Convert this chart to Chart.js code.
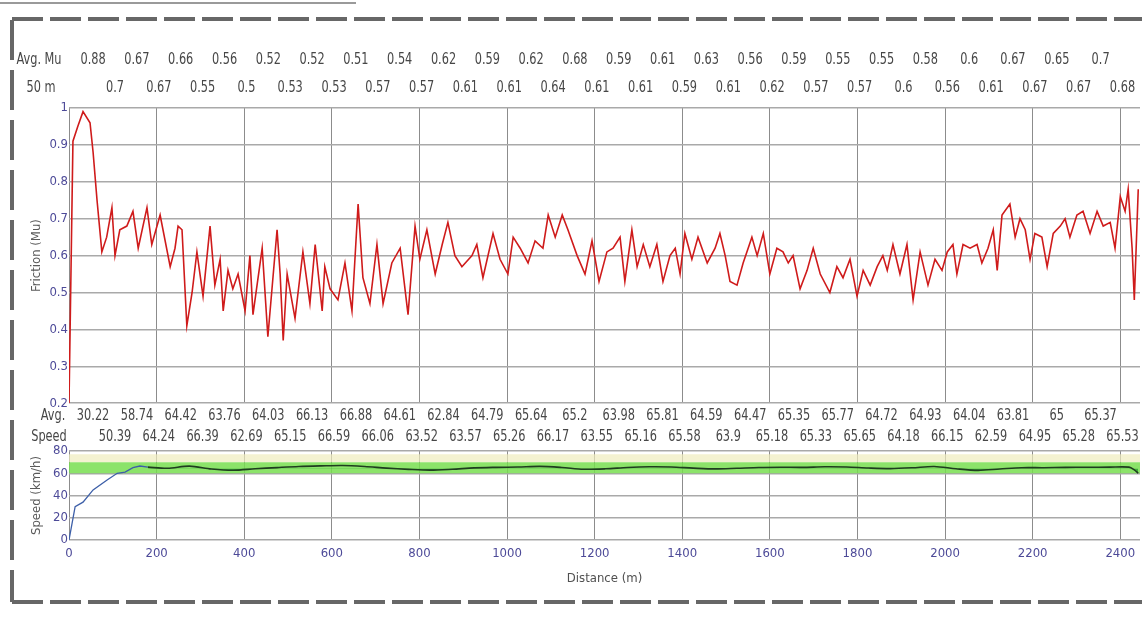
<!DOCTYPE html>
<html>
<head>
<meta charset="utf-8">
<script src="https://cdn.jsdelivr.net/npm/chart.js@4.4.1/dist/chart.umd.min.js"></script>
<style>
  html, body { margin: 0; padding: 0; background: #fff; }
  body { width: 1142px; height: 628px; position: relative; overflow: hidden; }
  canvas { position: absolute; left: 0; }
  #topLine { position: absolute; left: 0; top: 2px; width: 356px; height: 2px; background: #9a9a9a; }
  .dashH { position: absolute; height: 4px; left: 12px; right: 0;
    background: repeating-linear-gradient(to right, #676767 0 31px, transparent 31px 38px); }
  .dashV { position: absolute; width: 4px; left: 10px; top: 20px; height: 582px;
    background: repeating-linear-gradient(to bottom, #676767 0 40px, transparent 40px 50px); }
</style>
</head>
<body>
<div id="topLine"></div>
<div class="dashH" style="top:17px"></div>
<div class="dashH" style="top:600px"></div>
<div class="dashV"></div>
<canvas id="frictionChart" width="1142" height="412" style="top:0"></canvas>
<canvas id="speedChart" width="1142" height="200" style="top:400px"></canvas>
<script>
// distance axis (m)
const distTicks = [0, 200, 400, 600, 800, 1000, 1200, 1400, 1600, 1800, 2000, 2200, 2400];
const distMax = 2445;

// friction trace
const frictionDist = [0, 9, 20, 32, 48, 55, 64, 75, 86, 98, 105, 116, 132, 146, 158, 178, 189, 208, 231, 242,
  249, 258, 269, 281, 292, 306, 322, 333, 345, 352, 363, 374, 386, 402, 413, 420, 441, 454, 475, 482,
  489, 498, 516, 534, 550, 562, 578, 584, 596, 614, 630, 646, 660, 671, 687, 703, 717, 737, 756, 774,
  790, 801, 817, 836, 852, 865, 881, 897, 920, 931, 945, 968, 984, 1002, 1014, 1030, 1048, 1064, 1082, 1094,
  1110, 1126, 1139, 1160, 1178, 1194, 1210, 1228, 1242, 1258, 1269, 1285, 1297, 1311, 1326, 1342, 1356, 1372, 1384, 1395,
  1406, 1422, 1436, 1457, 1475, 1486, 1498, 1509, 1525, 1539, 1559, 1571, 1585, 1600, 1616, 1630, 1642, 1653, 1669, 1685,
  1699, 1715, 1737, 1753, 1767, 1783, 1799, 1813, 1829, 1845, 1858, 1868, 1881, 1897, 1913, 1927, 1943, 1961, 1977, 1993,
  2005, 2018, 2027, 2041, 2057, 2073, 2084, 2098, 2110, 2119, 2130, 2148, 2160, 2171, 2183, 2194, 2205, 2221, 2233, 2247,
  2263, 2274, 2285, 2301, 2315, 2331, 2347, 2361, 2377, 2388, 2400, 2411, 2418, 2427, 2432, 2441];
const frictionMu = [0.2, 0.91, 0.95, 0.99, 0.96, 0.88, 0.75, 0.61, 0.65, 0.73, 0.6, 0.67, 0.68, 0.72, 0.62, 0.73, 0.63, 0.71, 0.57, 0.62,
  0.68, 0.67, 0.41, 0.5, 0.61, 0.49, 0.68, 0.52, 0.59, 0.45, 0.56, 0.51, 0.55, 0.45, 0.6, 0.44, 0.62, 0.38, 0.67, 0.55,
  0.37, 0.55, 0.43, 0.61, 0.47, 0.63, 0.45, 0.57, 0.51, 0.48, 0.58, 0.45, 0.74, 0.54, 0.47, 0.63, 0.47, 0.58, 0.62, 0.44,
  0.68, 0.59, 0.67, 0.55, 0.63, 0.69, 0.6, 0.57, 0.6, 0.63, 0.54, 0.66, 0.59, 0.55, 0.65, 0.62, 0.58, 0.64, 0.62, 0.71,
  0.65, 0.71, 0.67, 0.6, 0.55, 0.64, 0.53, 0.61, 0.62, 0.65, 0.53, 0.67, 0.57, 0.63, 0.57, 0.63, 0.53, 0.6, 0.62, 0.55,
  0.66, 0.59, 0.65, 0.58, 0.62, 0.66, 0.6, 0.53, 0.52, 0.58, 0.65, 0.6, 0.66, 0.55, 0.62, 0.61, 0.58, 0.6, 0.51, 0.56,
  0.62, 0.55, 0.5, 0.57, 0.54, 0.59, 0.49, 0.56, 0.52, 0.57, 0.6, 0.56, 0.63, 0.55, 0.63, 0.48, 0.61, 0.52, 0.59, 0.56,
  0.61, 0.63, 0.55, 0.63, 0.62, 0.63, 0.58, 0.62, 0.67, 0.56, 0.71, 0.74, 0.65, 0.7, 0.67, 0.59, 0.66, 0.65, 0.57, 0.66,
  0.68, 0.7, 0.65, 0.71, 0.72, 0.66, 0.72, 0.68, 0.69, 0.62, 0.76, 0.72, 0.78, 0.62, 0.48, 0.78];
const frictionTicks = [0.2, 0.3, 0.4, 0.5, 0.6, 0.7, 0.8, 0.9, 1];

// 50 m averages, printed above the plots
const avgMu = [0.88, 0.7, 0.67, 0.67, 0.66, 0.55, 0.56, 0.5, 0.52, 0.53, 0.52, 0.53, 0.51, 0.57, 0.54, 0.57,
  0.62, 0.61, 0.59, 0.61, 0.62, 0.64, 0.68, 0.61, 0.59, 0.61, 0.61, 0.59, 0.63, 0.61, 0.56, 0.62,
  0.59, 0.57, 0.55, 0.57, 0.55, 0.6, 0.58, 0.56, 0.6, 0.61, 0.67, 0.67, 0.65, 0.67, 0.7, 0.68];
const avgSpeed = [30.22, 50.39, 58.74, 64.24, 64.42, 66.39, 63.76, 62.69, 64.03, 65.15, 66.13, 66.59, 66.88, 66.06, 64.61, 63.52,
  62.84, 63.57, 64.79, 65.26, 65.64, 66.17, 65.2, 63.55, 63.98, 65.16, 65.81, 65.58, 64.59, 63.9, 64.47, 65.18,
  65.35, 65.33, 65.77, 65.65, 64.72, 64.18, 64.93, 66.15, 64.04, 62.59, 63.81, 64.95, 65, 65.28, 65.37, 65.53];

// speed trace: acceleration part (blue) then cruising part
const rampDist = [0, 2, 7, 14, 32, 55, 87, 110, 128, 146, 162, 180];
const rampKmh = [0, 0, 15, 30, 34, 45, 54, 60, 61, 65, 66.5, 65.5];
const cruiseDist = [180, 225, 275, 325, 375, 425, 475, 525, 575, 625, 675, 725, 775, 825, 875, 925, 975, 1025, 1075,
  1125, 1175, 1225, 1275, 1325, 1375, 1425, 1475, 1525, 1575, 1625, 1675, 1725, 1775, 1825, 1875, 1925, 1975, 2025,
  2075, 2125, 2175, 2225, 2275, 2325, 2375, 2420, 2432, 2441];
const cruiseKmh = [65.5, 64.5, 66.4, 63.8, 62.7, 64, 65.1, 66.1, 66.6, 66.9, 66, 64.6, 63.5, 62.8, 63.6, 64.8, 65.3, 65.6,
  66.2, 65.2, 63.6, 64, 65.2, 65.8, 65.6, 64.6, 63.9, 64.5, 65.2, 65.4, 65.3, 65.8, 65.6, 64.7, 64.2, 64.9, 66.1, 64,
  62.6, 63.8, 65, 65, 65.3, 65.4, 65.5, 65.5, 63, 60];
const speedTicks = [0, 20, 40, 60, 80];
const bandLimits = [60, 70, 77];

function pickFont() {
  const c = document.createElement('canvas').getContext('2d');
  c.font = '16px "Liberation Sans Narrow", monospace';
  const wn = c.measureText('Distance (m)').width;
  c.font = '16px monospace';
  const wm = c.measureText('Distance (m)').width;
  return Math.abs(wn - wm) > 1 ? {family: '"Liberation Sans Narrow"', size: 15, squeeze: 1}
                                : {family: '"DejaVu Sans Condensed"', size: 13, squeeze: 0.84};
}
const FONT = pickFont();
const TICK_COLOR = '#4d4a98';
const TEXT_COLOR = '#474747';

function pts(xs, ys) {
  return xs.map((x, i) => ({x: x, y: ys[i]}));
}

// the 50 m average rows, laid out on the distance scale
const avgRows = {
  id: 'avgRows',
  afterDraw(chart, args, opts) {
    const ctx = chart.ctx;
    const x = chart.scales.x;
    const k = FONT.squeeze;
    ctx.save();
    ctx.font = Math.round(FONT.size * 1.15) + 'px ' + FONT.family;
    ctx.fillStyle = TEXT_COLOR;
    ctx.textAlign = 'center';
    ctx.textBaseline = 'middle';
    ctx.scale(k, 1);
    ctx.fillText(opts.labels[0], opts.labelX[0] / k, opts.rowY[0]);
    ctx.fillText(opts.labels[1], opts.labelX[1] / k, opts.rowY[1]);
    opts.values.forEach((v, i) => {
      const px = x.getPixelForValue(i * 50 + 55);
      ctx.fillText(String(v), px / k, opts.rowY[i % 2]);
    });
    ctx.restore();
  }
};

function distScale(showLabels) {
  return {
    type: 'linear', min: 0, max: distMax,
    afterBuildTicks: s => { s.ticks = distTicks.map(v => ({value: v})); },
    afterFit: s => { s.height = showLabels ? 60 : 0; },
    ticks: {display: showLabels, color: TICK_COLOR, padding: 6, font: {family: FONT.family, size: FONT.size},
      callback: v => String(v)},
    grid: {color: '#8c8c8c', lineWidth: 1, drawTicks: false},
    border: {display: false},
    title: {display: showLabels, text: 'Distance (m)', color: '#505050',
      font: {family: FONT.family, size: FONT.size}, padding: {top: 0, bottom: 14}}
  };
}

function valueScale(min, max, ticks, title) {
  return {
    type: 'linear', min: min, max: max,
    afterBuildTicks: s => { s.ticks = ticks.map(v => ({value: v})); },
    afterFit: s => { s.width = 69; },
    ticks: {color: TICK_COLOR, padding: 1, font: {family: FONT.family, size: FONT.size},
      callback: v => String(v)},
    grid: {color: '#a9a9a9', lineWidth: 1.5, drawTicks: false},
    border: {display: false},
    title: {display: true, text: title, color: '#5a5a5a',
      font: {family: FONT.family, size: FONT.size}, padding: {top: 29, bottom: 0}}
  };
}

new Chart(document.getElementById('frictionChart'), {
  type: 'line',
  data: {
    datasets: [{
      label: 'Friction',
      data: pts(frictionDist, frictionMu),
      borderColor: '#cf1b1b',
      borderWidth: 1.6,
      pointRadius: 0,
      tension: 0
    }]
  },
  options: {
    responsive: false,
    animation: false,
    layout: {padding: {top: 108, bottom: 4, left: 0, right: 2}},
    plugins: {
      legend: {display: false},
      tooltip: {enabled: false},
      avgRows: {labels: ['Avg. Mu', '50 m'], labelX: [39, 41], rowY: [60, 88], values: avgMu}
    },
    scales: {
      x: distScale(false),
      y: valueScale(0.2, 1, frictionTicks, 'Friction (Mu)')
    }
  },
  plugins: [avgRows]
});

new Chart(document.getElementById('speedChart'), {
  type: 'line',
  data: {
    datasets: [{
      label: 'band low',
      data: pts([0, distMax], [bandLimits[0], bandLimits[0]]),
      borderWidth: 0, pointRadius: 0, fill: false, order: 3
    }, {
      label: 'band high',
      data: pts([0, distMax], [bandLimits[1], bandLimits[1]]),
      borderWidth: 0, pointRadius: 0, fill: '-1', order: 2,
      backgroundColor: 'rgba(120, 222, 80, 0.85)'
    }, {
      label: 'band top',
      data: pts([0, distMax], [bandLimits[2], bandLimits[2]]),
      borderWidth: 0, pointRadius: 0, fill: '-1', order: 2,
      backgroundColor: 'rgba(240, 236, 190, 0.7)'
    }, {
      label: 'Speed ramp',
      data: pts(rampDist, rampKmh),
      borderColor: '#3d5fa8', borderWidth: 1.3, pointRadius: 0, fill: false, order: 0
    }, {
      label: 'Speed',
      data: pts(cruiseDist, cruiseKmh),
      borderColor: '#1f3d1f', borderWidth: 1.6, pointRadius: 0, tension: 0.3, order: 0,
      fill: {value: 64.2, above: 'rgba(0,0,0,0)', below: '#3fae3a'}
    }]
  },
  options: {
    responsive: false,
    animation: false,
    layout: {padding: {top: 51, bottom: 0, left: 0, right: 2}},
    plugins: {
      legend: {display: false},
      tooltip: {enabled: false},
      avgRows: {labels: ['Avg.', 'Speed'], labelX: [53, 49], rowY: [16, 37], values: avgSpeed}
    },
    scales: {
      x: distScale(true),
      y: valueScale(0, 80, speedTicks, 'Speed (km/h)')
    }
  },
  plugins: [avgRows]
});
</script>
</body>
</html>
